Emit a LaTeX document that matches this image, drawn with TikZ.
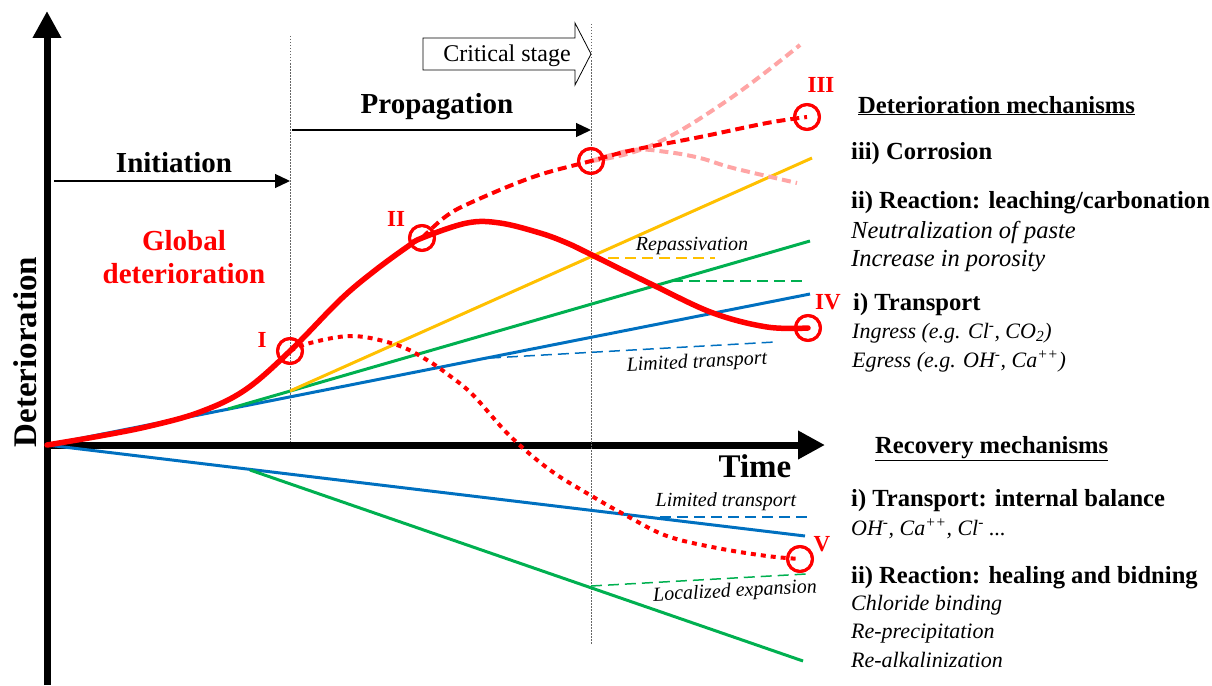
\documentclass[tikz,border=0pt]{standalone}
\usepackage{fontspec}
\setmainfont{Liberation Serif}
\usetikzlibrary{arrows.meta}
\definecolor{cyel}{RGB}{255,192,0}
\definecolor{cgrn}{RGB}{0,176,80}
\definecolor{cblu}{RGB}{0,112,192}
\definecolor{cred}{RGB}{255,0,0}
\definecolor{cpink}{RGB}{255,165,165}
\begin{document}
\begin{tikzpicture}[x=1pt,y=-1pt,
  axis/.style={line width=7pt,-{Triangle[length=27pt,width=27pt]}},
  phase/.style={line width=1.3pt,-{Triangle[length=15pt,width=14pt]}},
  vdot/.style={gray!80!black,line width=1pt,dash pattern=on 1.5pt off 1.5pt},
  big/.style={font=\fontsize{29}{33}\selectfont\bfseries,inner sep=0pt},
  head/.style={font=\fontsize{24.6}{28}\selectfont\bfseries,inner sep=0pt,anchor=base west},
  itl/.style={font=\fontsize{22}{26}\selectfont\itshape,inner sep=0pt,anchor=base west},
  itlb/.style={font=\fontsize{24.5}{28}\selectfont\itshape,inner sep=0pt,anchor=base west},
  small/.style={font=\fontsize{20}{22}\selectfont\itshape,inner sep=0pt},
  pt/.style={draw=cred,line width=3pt,circle,minimum size=25pt,inner sep=0pt},
  rlab/.style={text=cred,font=\fontsize{23}{26}\selectfont\bfseries,inner sep=0pt},
  colline/.style={line width=3pt},
  coldash/.style={line width=1.5pt,dash pattern=on 11pt off 6pt},
  reddash/.style={cred,line width=4pt,dash pattern=on 9pt off 5pt},
  reddot/.style={cred,line width=4pt,dash pattern=on 5pt off 5pt},
  pinkdash/.style={cpink,line width=4pt,dash pattern=on 9pt off 5pt}]
\useasboundingbox (0,0) rectangle (1212,685);

% axes
\coordinate (O) at (47,445);
\coordinate (ybot) at (47,685);
\coordinate (ytop) at (47,11);
\coordinate (xend) at (825,445);
\draw[axis] (ybot) -- (ytop);
\draw[axis] (O) -- (xend);

% vertical dotted lines
\coordinate (v1t) at (290,36); \coordinate (v1b) at (290,442);
\coordinate (v2t) at (591,24); \coordinate (v2b) at (591,645);
\draw[vdot] (v1t) -- (v1b);
\draw[vdot] (v2t) -- (v2b);

% phase arrows
\coordinate (ia) at (54,181); \coordinate (ib) at (290,181);
\coordinate (pa) at (292,130); \coordinate (pb) at (591,130);
\draw[phase] (ia) -- (ib);
\draw[phase] (pa) -- (pb);
\node[big,anchor=base] (tInit) at (174,172) {Initiation};
\node[big,anchor=base] (tProp) at (437,113) {Propagation};

% critical stage block arrow
\draw[line width=0.8pt,fill=white] (423,38) -- (575,38) -- (575,23) -- (591,54) -- (575,85) -- (575,70) -- (423,70) -- cycle;
\node[font=\fontsize{24}{28}\selectfont,inner sep=0pt,anchor=base] (tCrit) at (507,62) {Critical stage};

% labels
\node[rotate=90,font=\fontsize{33}{36}\selectfont\bfseries,inner sep=0pt] (tDet) at (25,352) {Deterioration};
\node[font=\fontsize{33}{36}\selectfont\bfseries,inner sep=0pt,anchor=base] (tTime) at (755,477) {Time};
\node[big,text=cred,anchor=base] (tGlob1) at (184,250) {Global};
\node[big,text=cred,anchor=base] (tGlob2) at (184,283) {deterioration};

% upper (deterioration) lines
\coordinate (bu1) at (810,294);
\coordinate (gu0) at (228,409); \coordinate (gu1) at (810,241);
\coordinate (yu0) at (290,391); \coordinate (yu1) at (812,158);
\draw[cblu,colline] (O) -- (bu1);
\draw[cgrn,colline] (gu0) -- (gu1);
\draw[cyel,colline] (yu0) -- (yu1);
\coordinate (yd0) at (591,258); \coordinate (yd1) at (715,258);
\draw[cyel,coldash] (yd0) -- (yd1);
\coordinate (gd0) at (672,281); \coordinate (gd1) at (808,281);
\draw[cgrn,coldash] (gd0) -- (gd1);
\coordinate (bd0) at (490,358); \coordinate (bd1) at (775,342);
\draw[cblu,coldash] (bd0) -- (bd1);
\node[small] (tRep) at (692,246) {Repassivation};
\node[small,rotate=3] (tLim1) at (697,363) {Limited transport};

% lower (recovery) lines
\coordinate (bl1) at (805,536);
\coordinate (gl0) at (250,470); \coordinate (gl1) at (803,661);
\draw[cblu,colline] (O) -- (bl1);
\draw[cgrn,colline] (gl0) -- (gl1);
\coordinate (bld0) at (660,517); \coordinate (bld1) at (808,517);
\draw[cblu,coldash] (bld0) -- (bld1);
\coordinate (gld0) at (591,586); \coordinate (gld1) at (806,574);
\draw[cgrn,coldash] (gld0) -- (gld1);
\node[small] (tLim2) at (726,502) {Limited transport};
\node[small,rotate=3] (tLoc) at (735,592) {Localized expansion};

% key points
\node[pt] (nI) at (290,351) {};
\node[pt] (nII) at (422,238) {};
\node[pt] (nC) at (591,161) {};
\node[pt] (nIII) at (807,117) {};
\node[pt] (nIV) at (808,328) {};
\node[pt] (nV) at (800,559) {};
\node[rlab] (lI) at (262,340) {I};
\node[rlab] (lII) at (396,219) {II};
\node[rlab] (lIII) at (821,85) {III};
\node[rlab] (lIV) at (828,302) {IV};
\node[rlab] (lV) at (822,544) {V};

% pink scenarios
\draw[pinkdash] plot[smooth,tension=0.7] coordinates {(nC.center) (650,146) (725,102) (800,45)};
\draw[pinkdash] plot[smooth,tension=0.6] coordinates {(nC.center) (633,150) (667,152) (700,158) (733,168) (797,183)};

% red dashed II -> C -> III
\draw[reddash] plot[smooth,tension=0.6] coordinates {(nII.center) (445,217) (470,203) (533,177) (nC.center) (633,150) (700,137) (767,123) (nIII.center)};

% red dotted I -> V
\draw[reddot] plot[smooth,tension=0.6] coordinates {(nI.center) (310,343) (353,336) (397,345) (427,360) (450,376) (473,395) (510,436) (550,470) (590,495) (627,516) (667,536) (717,548) (767,556) (nV.center)};

% main red curve
\draw[cred,line width=5.5pt,line cap=round] plot[smooth,tension=0.6] coordinates {(O) (100,436) (150,426) (200,412) (245,390) (nI.center) (340,300) (373,272) (407,247) (nII.center) (467,223) (500,223) (540,233) (567,243) (592,255) (653,285) (713,313) (767,327) (nIV.center)};

% redraw circles on top
\node[pt] at (nI) {};
\node[pt] at (nII) {};
\node[pt] at (nC) {};
\node[pt] at (nIII) {};
\node[pt] at (nIV) {};
\node[pt] at (nV) {};

% right column: deterioration mechanisms
\node[head] (hDet) at (858,113) {\underline{Deterioration mechanisms}};
\node[head] (hCor) at (851,159) {iii) Corrosion};
\node[head] (hRea) at (851,208) {ii) Reaction: leaching/carbonation};
\node[itlb] (iNeu) at (851,238) {Neutralization of paste};
\node[itlb] (iInc) at (851,266) {Increase in porosity};
\node[head] (hTra) at (853,310) {i) Transport};
\node[itl] (iIng) at (852,338) {Ingress (e.g. Cl\textsuperscript{-}, CO\textsubscript{2})};
\node[itl] (iEgr) at (852,367) {Egress (e.g. OH\textsuperscript{-}, Ca\textsuperscript{++})};

% right column: recovery mechanisms
\node[head] (hRec) at (875,453) {\underline{Recovery mechanisms}};
\node[head] (hTr2) at (851,506) {i) Transport: internal balance};
\node[itl] (iOH) at (851,535) {OH\textsuperscript{-}, Ca\textsuperscript{++}, Cl\textsuperscript{-} ...};
\node[head] (hHea) at (851,583) {ii) Reaction: healing and bidning};
\node[itl] (iChl) at (851,610) {Chloride binding};
\node[itl] (iPre) at (851,638) {Re-precipitation};
\node[itl] (iAlk) at (851,667) {Re-alkalinization};
\end{tikzpicture}
\end{document}
